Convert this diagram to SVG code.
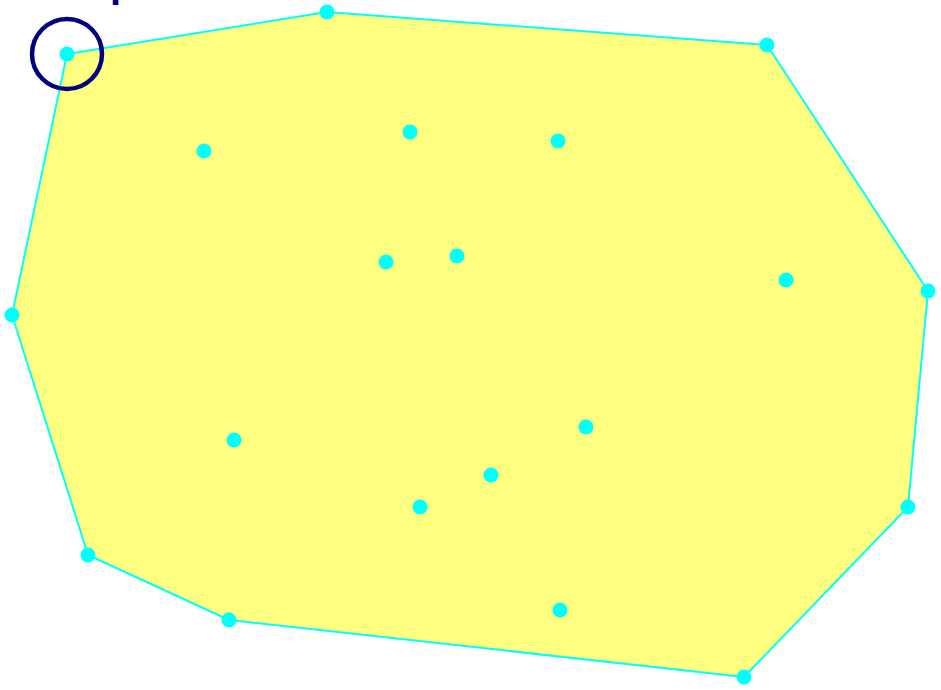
<svg xmlns="http://www.w3.org/2000/svg" width="941" height="690" viewBox="0 0 941 690">
<style>
.hull{fill:#ffff80;stroke:#00ffff;stroke-width:2;stroke-linejoin:round}
.pt{fill:#00ffff}
.mark{fill:none;stroke:#000080;stroke-width:4.5}
.lbl{font-family:"Liberation Sans",Arial,sans-serif;font-weight:bold;font-size:40px;fill:#000080}
</style>
<rect width="941" height="690" fill="#ffffff"/>
<g id="connectors">
<polygon class="hull" points="67,54 327,12 767,45 928,291 908,507 744,677 229,620 88,555 12,315"/>
</g>
<g id="points">
<circle class="pt" cx="67" cy="54" r="7.5"/>
<circle class="pt" cx="327" cy="12" r="7.5"/>
<circle class="pt" cx="767" cy="45" r="7.5"/>
<circle class="pt" cx="928" cy="291" r="7.5"/>
<circle class="pt" cx="908" cy="507" r="7.5"/>
<circle class="pt" cx="744" cy="677" r="7.5"/>
<circle class="pt" cx="229" cy="620" r="7.5"/>
<circle class="pt" cx="88" cy="555" r="7.5"/>
<circle class="pt" cx="12" cy="315" r="7.5"/>
<circle class="pt" cx="204" cy="151" r="7.5"/>
<circle class="pt" cx="410" cy="132" r="7.5"/>
<circle class="pt" cx="558" cy="141" r="7.5"/>
<circle class="pt" cx="386" cy="262" r="7.5"/>
<circle class="pt" cx="457" cy="256" r="7.5"/>
<circle class="pt" cx="786" cy="280" r="7.5"/>
<circle class="pt" cx="234" cy="440" r="7.5"/>
<circle class="pt" cx="586" cy="427" r="7.5"/>
<circle class="pt" cx="491" cy="475" r="7.5"/>
<circle class="pt" cx="420" cy="507" r="7.5"/>
<circle class="pt" cx="560" cy="610" r="7.5"/>
</g>
<g id="start">
<circle class="mark" cx="67" cy="54" r="35"/>
<text class="lbl" x="110" y="-3">p</text>
</g>
</svg>
